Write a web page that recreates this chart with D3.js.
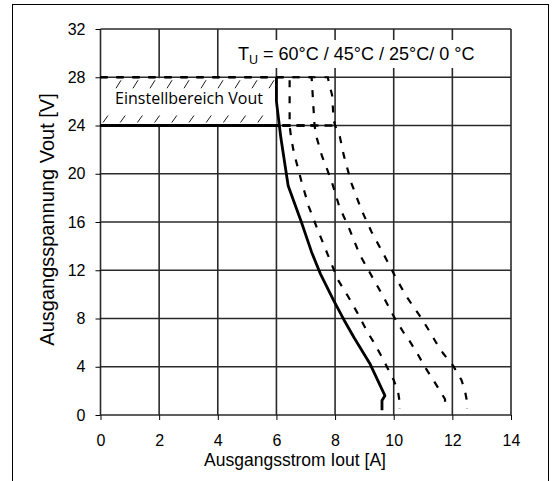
<!DOCTYPE html>
<html>
<head>
<meta charset="utf-8">
<script src="https://cdn.jsdelivr.net/npm/d3@7"></script>
<style>
  body { margin: 0; background: #fff; }
  text { font-family: "Liberation Sans", Arial, sans-serif; fill: #000; }
</style>
</head>
<body>
<div id="container"></div>
<script>
const WIDTH = 555;
const HEIGHT = 481;

const xTicks = [0, 2, 4, 6, 8, 10, 12, 14];
const yTicks = [0, 4, 8, 12, 16, 20, 24, 28, 32];

// range of the adjustable output voltage
const vRange = [24, 28];

// 60 °C (solid)
const curve60 = [[6, 28], [6, 26], [6.1, 24], [6.15, 23], [6.4, 19], [6.85, 16], [7.2, 13.5],
  [7.5, 11.7], [7.95, 9.5], [8.3, 7.9], [8.65, 6.4], [9.2, 4.2], [9.7, 1.6], [9.6, 1.2], [9.6, 0.4]];
// 45 °C
const curve45 = [[0, 28], [6.45, 28], [6.45, 24], [6.5, 23], [6.6, 21.7], [6.85, 19.4], [7.1, 17.3],
  [7.4, 15.4], [7.75, 13.3], [8.1, 11.2], [8.45, 9.8], [8.8, 8.3], [9.1, 6.9], [9.3, 6.1], [9.6, 4.8],
  [10.0, 2.9], [10.15, 1.9], [10.2, 1.1], [10.2, 0.5]];
// 25 °C
const curve25 = [[0, 28], [7.2, 28], [7.3, 24], [7.36, 23.1], [7.55, 21.5], [7.88, 19.4], [8.14, 17.3],
  [8.5, 15.35], [8.84, 13.3], [9.3, 11.3], [9.65, 9.8], [10.04, 8.0], [10.32, 6.9], [10.55, 6.1],
  [10.83, 5.0], [11.06, 4.0], [11.35, 2.9], [11.63, 1.8], [11.75, 1.3], [11.75, 0.5]];
// 0 °C
const curve0 = [[0, 28], [7.75, 28], [7.9, 26.5], [7.95, 24.5], [8.0, 24], [8.16, 23.1], [8.3, 21.5],
  [8.56, 19.2], [8.9, 17.0], [9.24, 15.2], [9.64, 13.4], [10.09, 11.3], [10.44, 9.8], [10.95, 8.0],
  [11.23, 6.9], [11.46, 5.95], [11.69, 5.1], [12.03, 4.07], [12.31, 2.9], [12.43, 2.0], [12.5, 1.1],
  [12.5, 0.5]];

const dashedCurves = [curve45, curve25, curve0];

const x = d3.scaleLinear().domain([0, 14]).range([100.5, 511]);
const y = d3.scaleLinear().domain([0, 32]).range([415, 29]);

const svg = d3.select('#container')
  .append('svg')
    .attr('width', WIDTH)
    .attr('height', HEIGHT);

// outer frame
svg.append('rect')
  .attr('x', 12.5).attr('y', 4.5)
  .attr('width', 536).attr('height', 520)
  .attr('fill', 'none')
  .attr('stroke', '#000')
  .attr('stroke-width', 1);

// grid
svg.append('g')
  .selectAll('line')
  .data(xTicks)
  .join('line')
    .attr('x1', d => x(d)).attr('x2', d => x(d))
    .attr('y1', y(0)).attr('y2', y(32))
    .attr('stroke', '#2a2a2a')
    .attr('stroke-width', 1.6);

svg.append('g')
  .selectAll('line')
  .data(yTicks)
  .join('line')
    .attr('x1', x(0)).attr('x2', x(14))
    .attr('y1', d => y(d)).attr('y2', d => y(d))
    .attr('stroke', '#2a2a2a')
    .attr('stroke-width', 1.6);

// axes
const yAxis = svg.append('g')
  .attr('transform', `translate(${x(0)},0)`)
  .call(d3.axisLeft(y).tickValues(yTicks).tickSize(5).tickPadding(10));
const xAxis = svg.append('g')
  .attr('transform', `translate(0,${y(0)})`)
  .call(d3.axisBottom(x).tickValues(xTicks).tickSize(5).tickPadding(15));

[xAxis, yAxis].forEach(a => {
  a.select('.domain').remove();
  a.selectAll('line').attr('stroke', '#000');
  a.selectAll('text')
    .style('font-family', '"Liberation Sans", Arial, sans-serif')
    .style('font-size', '16px')
    .attr('fill', '#000');
});

// adjustment range box (white, hatched)
svg.append('rect')
  .attr('x', x(0) + 1)
  .attr('y', y(vRange[1]) + 1)
  .attr('width', x(6) - x(0) - 1)
  .attr('height', y(vRange[0]) - y(vRange[1]) - 2)
  .attr('fill', '#fff');

const hatch = svg.append('g')
  .attr('stroke', '#000')
  .attr('stroke-width', 0.9);
hatch.selectAll('.top')
  .data(d3.range(116, x(6) - 2, 17))
  .join('line')
    .attr('x1', d => d).attr('y1', y(vRange[1]) + 11)
    .attr('x2', d => d + 5).attr('y2', y(vRange[1]) + 3);
hatch.selectAll('.bot')
  .data(d3.range(103, x(6) - 6, 17.2))
  .join('line')
    .attr('x1', d => d).attr('y1', y(vRange[0]) - 3)
    .attr('x2', d => d + 5).attr('y2', y(vRange[0]) - 10);

svg.append('text')
  .attr('x', 189)
  .attr('y', 104)
  .attr('text-anchor', 'middle')
  .style('font-family', '"Open Sans", "Noto Sans", sans-serif')
  .style('font-size', '16px')
  .text('Einstellbereich Vout');

// temperature label with white backing
svg.append('rect')
  .attr('x', 229).attr('y', 40)
  .attr('width', 266).attr('height', 28)
  .attr('fill', '#fff');

const tu = svg.append('text')
  .attr('x', 238)
  .attr('y', 60)
  .style('font-size', '18px');
tu.append('tspan').text('T');
tu.append('tspan').attr('dy', 4).style('font-size', '12.5px').text('U');
tu.append('tspan').attr('dy', -4).text(' = 60°C / 45°C / 25°C/ 0 °C');

// curves
const line = d3.line().x(d => x(d[0])).y(d => y(d[1]));

// range lines for each curve
const xAt = (curve, v) => curve.find(p => p[1] === v)[0];

dashedCurves.forEach(c => {
  vRange.forEach(v => {
    svg.append('line')
      .attr('x1', x(0)).attr('x2', x(xAt(c, v)))
      .attr('y1', y(v)).attr('y2', y(v))
      .attr('stroke', '#000')
      .attr('stroke-width', 2.6)
      .attr('stroke-dasharray', '8,6');
  });
  svg.append('path')
    .datum(c)
    .attr('d', line)
    .attr('fill', 'none')
    .attr('stroke', '#000')
    .attr('stroke-width', 2.2)
    .attr('stroke-dasharray', '7,9');
});

svg.append('line')
  .attr('x1', x(0)).attr('x2', x(xAt(curve60, vRange[0])))
  .attr('y1', y(vRange[0])).attr('y2', y(vRange[0]))
  .attr('stroke', '#000')
  .attr('stroke-width', 3);

svg.append('path')
  .datum(curve60)
  .attr('d', line)
  .attr('fill', 'none')
  .attr('stroke', '#000')
  .attr('stroke-width', 2.8)
  .attr('stroke-linejoin', 'round');

// axis titles
svg.append('text')
  .attr('x', 295)
  .attr('y', 466)
  .attr('text-anchor', 'middle')
  .style('font-size', '17.5px')
  .text('Ausgangsstrom Iout [A]');

svg.append('text')
  .attr('transform', 'translate(54,219.5) rotate(-90)')
  .attr('text-anchor', 'middle')
  .style('font-size', '20px')
  .text('Ausgangsspannung Vout [V]');
</script>
</body>
</html>
